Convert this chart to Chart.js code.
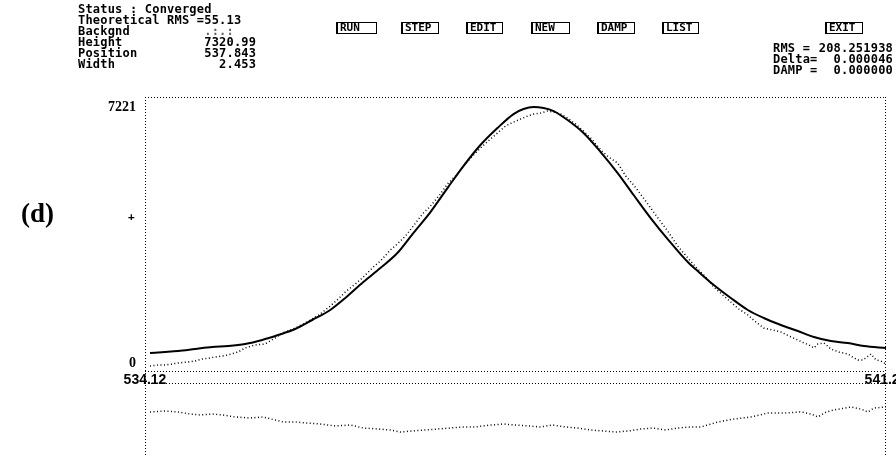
<!DOCTYPE html>
<html>
<head>
<meta charset="utf-8">
<script src="https://cdn.jsdelivr.net/npm/chart.js@4.4.1/dist/chart.umd.min.js"></script>
<style>
  body { margin: 0; background: #fff; }
  #wrap { position: relative; width: 896px; height: 455px; background: #fff; overflow: hidden; }
  #c { position: absolute; left: 0; top: 0; }
  .dos { position: absolute; font: bold 12px "DejaVu Sans Mono", monospace; letter-spacing: 0.2px; line-height: 11px; white-space: pre; color: #000; }
  .btn { position: absolute; top: 22px; height: 10px; border: 1px solid #000; border-left-width: 2px; font: bold 11px "DejaVu Sans Mono", monospace; line-height: 10px; padding-left: 2px; color: #000; }
  .lbl { position: absolute; color: #000; white-space: pre; }
</style>
</head>
<body>
<div id="wrap">
  <canvas id="c" width="896" height="455"></canvas>

  <div class="dos" style="left:78px; top:4px;">Status : Converged
Theoretical RMS =55.13
Backgnd          <span style="color:#666">.:.:</span>
Height           7320.99
Position         537.843
Width              2.453</div>

  <div class="btn" style="left:336px; width:36px;">RUN</div>
  <div class="btn" style="left:401px; width:33px;">STEP</div>
  <div class="btn" style="left:466px; width:32px;">EDIT</div>
  <div class="btn" style="left:531px; width:34px;">NEW</div>
  <div class="btn" style="left:597px; width:33px;">DAMP</div>
  <div class="btn" style="left:662px; width:32px;">LIST</div>
  <div class="btn" style="left:825px; width:33px;">EXIT</div>

  <div class="dos" style="left:773px; top:43px;">RMS =
Delta=
DAMP =</div>
  <div class="dos" style="right:3px; top:43px; text-align:right;">208.251938
0.000046
0.000000</div>

  <div class="lbl" style="left:21px; top:198px; font: bold 27px 'Liberation Serif', serif;">(d)</div>
  <div class="lbl" style="left:128px; top:210px; font: bold 11px 'DejaVu Sans Mono', monospace;">+</div>
</div>

<script>
// axis ticks
const xTicks = [534.12, 541.22];
const yTicks = [0, 7221];

// fitted profile
const fitX = [534.168, 534.312, 534.437, 534.600, 534.763, 534.916, 535.079, 535.243, 535.396, 535.559,
  535.722, 535.895, 536.039, 536.212, 536.375, 536.538, 536.691, 536.855, 537.018, 537.171,
  537.334, 537.497, 537.651, 537.747, 537.843, 537.939, 538.035, 538.169, 538.322, 538.486,
  538.649, 538.802, 538.965, 539.128, 539.330, 539.416, 539.570, 539.733, 539.896, 540.049,
  540.213, 540.376, 540.529, 540.692, 540.855, 541.009, 541.220];
const fitY = [282, 310, 338, 395, 451, 479, 536, 649, 790, 959,
  1213, 1495, 1833, 2284, 2679, 3102, 3666, 4258, 4935, 5555,
  6148, 6627, 7022, 7163, 7219, 7191, 7106, 6853, 6486, 5950,
  5358, 4738, 4089, 3497, 2820, 2594, 2200, 1833, 1495, 1269,
  1072, 902, 733, 620, 564, 479, 423];

// measured counts
const obsX = [534.168, 534.245, 534.312, 534.379, 534.437, 534.533, 534.600, 534.667, 534.744, 534.792,
  534.859, 534.916, 535.012, 535.079, 535.175, 535.271, 535.367, 535.434, 535.492, 535.559,
  535.636, 535.722, 535.799, 535.895, 535.972, 536.039, 536.135, 536.212, 536.308, 536.375,
  536.471, 536.538, 536.615, 536.691, 536.778, 536.855, 536.951, 537.018, 537.095, 537.171,
  537.258, 537.334, 537.430, 537.497, 537.574, 537.651, 537.718, 537.785, 537.843, 537.910,
  537.977, 538.035, 538.102, 538.169, 538.246, 538.322, 538.409, 538.486, 538.563, 538.649,
  538.726, 538.802, 538.889, 538.965, 539.042, 539.128, 539.224, 539.330, 539.416, 539.493,
  539.570, 539.656, 539.733, 539.810, 539.896, 539.973, 540.049, 540.136, 540.213, 540.289,
  540.376, 540.433, 540.481, 540.529, 540.567, 540.625, 540.692, 540.769, 540.855, 540.913,
  540.951, 540.999, 541.038, 541.076, 541.124, 541.172, 541.220];
const obsY = [-85, -56, -56, -28, 0, 28, 56, 113, 141, 169,
  197, 226, 310, 423, 508, 536, 705, 846, 902, 987,
  1100, 1241, 1382, 1607, 1805, 2002, 2228, 2425, 2707, 2876,
  3187, 3356, 3581, 3863, 4202, 4427, 4766, 5048, 5273, 5555,
  5837, 6063, 6317, 6486, 6683, 6796, 6881, 6965, 7022, 7050,
  7106, 7078, 7022, 6909, 6740, 6542, 6289, 6007, 5809, 5640,
  5273, 5020, 4681, 4371, 4061, 3722, 3299, 2933, 2651, 2425,
  2143, 1918, 1720, 1523, 1354, 1156, 987, 931, 874, 761,
  649, 564, 508, 423, 536, 564, 395, 310, 254, 141,
  85, 85, 169, 254, 85, 56, -28];

// residuals (obs - fit), plotted on their own strip
const resX = [534.168, 534.312, 534.437, 534.552, 534.648, 534.763, 534.869, 534.984, 535.127, 535.252,
  535.367, 535.444, 535.559, 535.674, 535.799, 535.943, 536.087, 536.212, 536.356, 536.471,
  536.567, 536.682, 536.807, 536.922, 537.047, 537.162, 537.287, 537.430, 537.555, 537.670,
  537.795, 537.910, 538.025, 538.150, 538.265, 538.390, 538.515, 538.630, 538.755, 538.870,
  538.985, 539.109, 539.224, 539.349, 539.445, 539.608, 539.762, 539.925, 540.088, 540.241,
  540.405, 540.501, 540.568, 540.645, 540.721, 540.884, 540.980, 541.047, 541.105, 541.220];
const resY = [226, 254, 226, 169, 141, 169, 141, 85, 56, 85,
  0, -56, -56, -85, -113, -169, -141, -226, -254, -282,
  -338, -310, -282, -254, -226, -197, -197, -141, -113, -141,
  -169, -197, -141, -197, -226, -282, -310, -338, -310, -254,
  -226, -282, -226, -197, -197, -56, 28, 85, 197, 197,
  226, 169, 85, 226, 282, 367, 310, 226, 338, 367];

const pairs = (xs, ys) => xs.map((x, i) => ({ x: x, y: ys[i] }));

// value on the count axis where the x axis sits
const xAxisAt = -226;

// axes drawn inside the plot must not claim layout room
const noRoom = (s) => {
  s.paddingLeft = 0; s.paddingRight = 0;
  s.paddingTop = 0; s.paddingBottom = 0;
};

// dotted frame of the fit window and the residual strip
const framePlugin = {
  id: 'frame',
  beforeDatasetsDraw(chart) {
    const { ctx, chartArea: a } = chart;
    const base = Math.round(chart.scales.y.getPixelForValue(xAxisAt)) + 0.5;
    ctx.save();
    ctx.strokeStyle = '#000';
    ctx.lineWidth = 1;
    ctx.setLineDash([1, 2]);
    ctx.beginPath();
    ctx.moveTo(a.left, a.top + 0.5); ctx.lineTo(a.right, a.top + 0.5);
    ctx.moveTo(a.left, base); ctx.lineTo(a.right, base);
    ctx.moveTo(a.left, base + 12); ctx.lineTo(a.right, base + 12);
    ctx.moveTo(a.left + 0.5, a.top); ctx.lineTo(a.left + 0.5, a.bottom);
    ctx.moveTo(a.right - 0.5, a.top); ctx.lineTo(a.right - 0.5, a.bottom);
    ctx.stroke();
    ctx.restore();
  }
};

new Chart(document.getElementById('c'), {
  type: 'line',
  data: {
    datasets: [
      {
        label: 'fit',
        data: pairs(fitX, fitY),
        borderColor: '#000',
        borderWidth: 2,
        pointRadius: 0,
        cubicInterpolationMode: 'monotone',
        yAxisID: 'y'
      },
      {
        label: 'data',
        data: pairs(obsX, obsY),
        borderColor: '#000',
        borderWidth: 1.5,
        borderDash: [1, 2.5],
        pointRadius: 0,
        yAxisID: 'y'
      },
      {
        label: 'residual',
        data: pairs(resX, resY),
        borderColor: '#000',
        borderWidth: 1.5,
        borderDash: [1, 2.5],
        pointRadius: 0,
        yAxisID: 'yRes'
      }
    ]
  },
  options: {
    responsive: false,
    animation: false,
    devicePixelRatio: 1,
    layout: { padding: { top: 97, right: 10, left: 0, bottom: 0 } },
    plugins: { legend: { display: false }, tooltip: { enabled: false } },
    scales: {
      x: {
        type: 'linear',
        min: 534.12,
        max: 541.22,
        position: { y: xAxisAt },
        afterBuildTicks: (s) => { s.ticks = xTicks.map(v => ({ value: v })); },
        afterFit: (s) => { s.height = 0; noRoom(s); },
        ticks: {
          color: '#000',
          font: { family: 'Liberation Sans', size: 14, weight: 'bold' },
          padding: 1,
          maxRotation: 0,
          callback: (v) => v.toFixed(2)
        },
        grid: { display: false, drawTicks: false },
        border: { display: false }
      },
      y: {
        type: 'linear',
        min: -2595,
        max: 7503,
        afterFit: (s) => { s.width = 145; noRoom(s); },
        afterBuildTicks: (s) => { s.ticks = yTicks.map(v => ({ value: v })); },
        ticks: {
          color: '#000',
          font: { family: 'Liberation Serif', size: 14, weight: 'bold' },
          padding: 9,
          callback: (v) => String(v)
        },
        grid: { display: false, drawTicks: false },
        border: { display: false }
      },
      yRes: {
        type: 'linear',
        display: false,
        min: -987,
        max: 9109
      }
    }
  },
  plugins: [framePlugin]
});
</script>
</body>
</html>
